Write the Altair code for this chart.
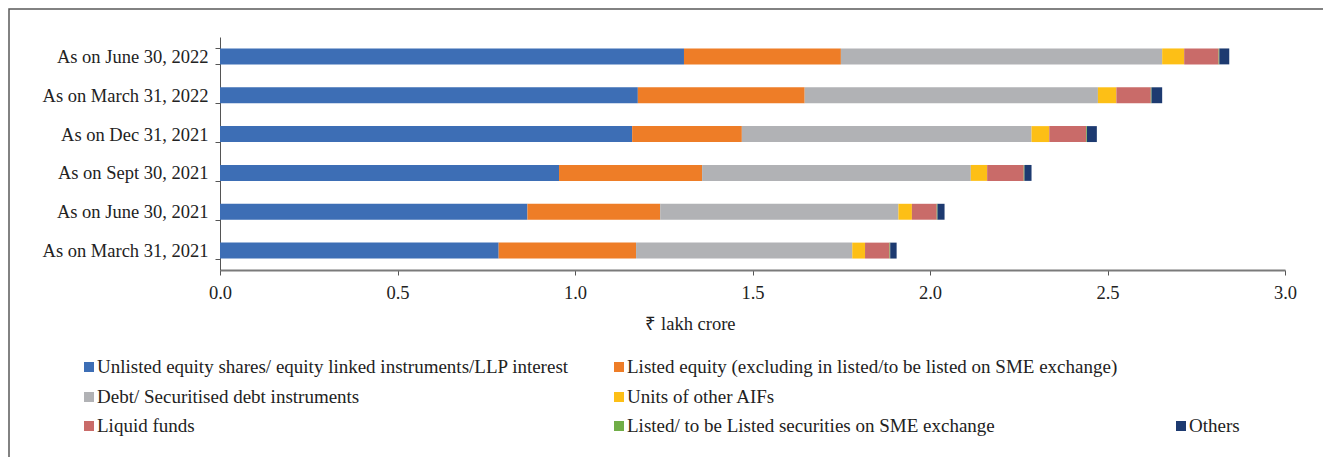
import altair as alt
import pandas as pd

# ---- data (₹ lakh crore) ----
periods = ["As on March 31, 2021", "As on June 30, 2021", "As on Sept 30, 2021",
           "As on Dec 31, 2021", "As on March 31, 2022", "As on June 30, 2022"]
series_names = [
    "Unlisted equity shares/ equity linked instruments/LLP interest",
    "Listed equity (excluding in listed/to be listed on SME exchange)",
    "Debt/ Securitised debt instruments",
    "Units of other AIFs",
    "Liquid funds",
    "Listed/ to be Listed securities on SME exchange",
    "Others",
]
unlisted = [0.785, 0.866, 0.955, 1.161, 1.177, 1.307]
listed_eq = [0.387, 0.374, 0.403, 0.309, 0.470, 0.442]
debt = [0.609, 0.671, 0.757, 0.816, 0.826, 0.905]
aif_units = [0.036, 0.038, 0.046, 0.050, 0.052, 0.062]
liquid = [0.069, 0.070, 0.103, 0.104, 0.097, 0.097]
sme = [0.002, 0.002, 0.002, 0.002, 0.002, 0.002]
others = [0.018, 0.020, 0.020, 0.028, 0.030, 0.028]
x_ticks = [0.0, 0.5, 1.0, 1.5, 2.0, 2.5, 3.0]

colors = ["#3d6eb5", "#ee7d27", "#b1b2b5", "#fdbf16", "#c96b69", "#70ad47", "#1d3a70"]

FONT = "Liberation Serif"
AX_FS = 18.5
LEG_FS = 19

all_series = [unlisted, listed_eq, debt, aif_units, liquid, sme, others]
rows = []
for si, (name, vals) in enumerate(zip(series_names, all_series)):
    for p, v in zip(periods, vals):
        rows.append({"period": p, "series": name, "value": v, "order": si})
df = pd.DataFrame(rows)

color_scale = alt.Scale(domain=series_names, range=colors)

bars = alt.Chart(df).mark_bar().encode(
    x=alt.X("value:Q", stack="zero",
            scale=alt.Scale(domain=[0, 3], nice=False),
            axis=alt.Axis(values=x_ticks, format=".1f", title="₹ lakh crore",
                          grid=False, tickSize=5, labelPadding=8, labelFlush=False,
                          labelFont=FONT, labelFontSize=AX_FS, labelColor="#222",
                          titleFont=FONT, titleFontSize=AX_FS, titleFontWeight="normal",
                          titleColor="#222", titleX=470, titleY=44,
                          domainColor="#7a7a7a", domainWidth=2, tickColor="#555")),
    y=alt.Y("period:N", sort=periods[::-1],
            scale=alt.Scale(paddingInner=0.59, paddingOuter=0.295),
            axis=alt.Axis(title=None, tickBand="extent", tickSize=5, labelPadding=7,
                          labelFont=FONT, labelFontSize=AX_FS, labelColor="#222",
                          domainColor="#555", tickColor="#555", labelLimit=400)),
    color=alt.Color("series:N", scale=color_scale, legend=None),
    order=alt.Order("order:Q"),
)

# ---- custom legend laid out like the original (2 columns, last row with 3) ----
leg_col_x = [-131, 399, 961]
leg_row_y = [330, 360, 389]
leg_rows = []
for i, name in enumerate(series_names):
    r = min(i // 2, 2)
    c = i % 2 if i < 6 else 2
    leg_rows.append({"series": name, "lx": leg_col_x[c], "ly": leg_row_y[r],
                     "tx": leg_col_x[c] + 8})
leg_df = pd.DataFrame(leg_rows)

leg_sym = alt.Chart(leg_df).mark_square(size=100, opacity=1).encode(
    x=alt.X("lx:Q", scale=None, axis=None),
    y=alt.Y("ly:Q", scale=None, axis=None),
    color=alt.Color("series:N", scale=color_scale, legend=None),
)
leg_txt = alt.Chart(leg_df).mark_text(align="left", baseline="middle", font=FONT,
                                      fontSize=LEG_FS, color="#222").encode(
    x=alt.X("tx:Q", scale=None, axis=None),
    y=alt.Y("ly:Q", scale=None, axis=None),
    text="series:N",
)

frame = alt.Chart(pd.DataFrame({"k": [0]})).mark_rect(
    filled=False, stroke="#5a5a5a", strokeWidth=1.5
).encode(x=alt.value(-211), x2=alt.value(1160), y=alt.value(-28), y2=alt.value(460))

chart = alt.layer(frame, bars, leg_sym, leg_txt).resolve_scale(
    x="independent", y="independent"
).properties(
    width=1065, height=233,
    padding={"left": 212, "top": 29, "right": 38, "bottom": 187},
    autosize=alt.AutoSizeParams(type="none"),
    background="white",
).configure_view(stroke=None)

chart.save("out.html", embed_options={"renderer": "svg", "actions": False})
